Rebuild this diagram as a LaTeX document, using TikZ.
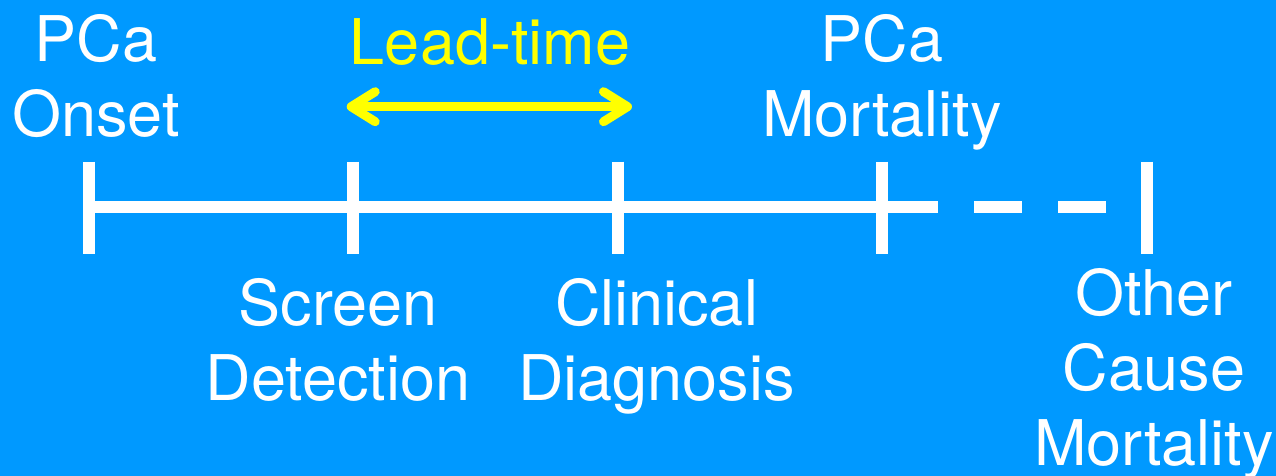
\documentclass[tikz,border=0pt]{standalone}
\usepackage{fontspec}
\setmainfont{TeX Gyre Heros}
\usetikzlibrary{arrows.meta}
\definecolor{bgblue}{HTML}{0099FF}
\definecolor{leadyellow}{HTML}{FFFF00}
\begin{document}
\begin{tikzpicture}[x=1pt,y=-1pt,
  lbl/.style={anchor=base,align=center,text=white,inner sep=0pt,font=\fontsize{63}{75}\selectfont},
  ylbl/.style={lbl,text=leadyellow},
  axis/.style={draw=white,line width=12pt},
  tick/.style={draw=white,line width=12pt},
  leadarrow/.style={draw=leadyellow,line width=9pt,{Straight Barb[length=24pt,width=30pt,round]}-{Straight Barb[length=24pt,width=30pt,round]}}]
\fill[bgblue] (0,0) rectangle (1276,476);
\useasboundingbox (0,0) rectangle (1276,476);
% timeline points
\coordinate (t1) at (88.5,207);
\coordinate (t2) at (353,207);
\coordinate (t3) at (617.5,207);
\coordinate (t4) at (882,207);
\coordinate (t5) at (1147,207);
\coordinate (solidend) at (937.7,207);
% axis
\draw[axis] (t1) -- (solidend);
\draw[axis,dash pattern=on 48pt off 36.3pt on 48pt off 36.3pt] ([xshift=36.3pt]solidend) -- (t5);
% ticks
\foreach \x in {88.5,353,617.5,882,1147}
  \draw[tick] (\x,161.5) -- (\x,254);
% lead-time arrow
\coordinate (la) at (346.7,106.7);
\coordinate (lb) at (632,106.7);
\draw[leadarrow] (la) -- (lb);
% labels (anchor = baseline of last line)
\node[lbl] (onset) at (96,136) {PCa\\Onset};
\node[ylbl] (lead) at (490,65) {Lead-time};
\node[lbl] (pcamort) at (882,136) {PCa\\Mortality};
\node[lbl] (screen) at (338,400) {Screen\\Detection};
\node[lbl] (clin) at (656.5,400) {Clinical\\Diagnosis};
\node[lbl] (other) at (1154,465) {Other\\Cause\\Mortality};
\end{tikzpicture}
\end{document}
